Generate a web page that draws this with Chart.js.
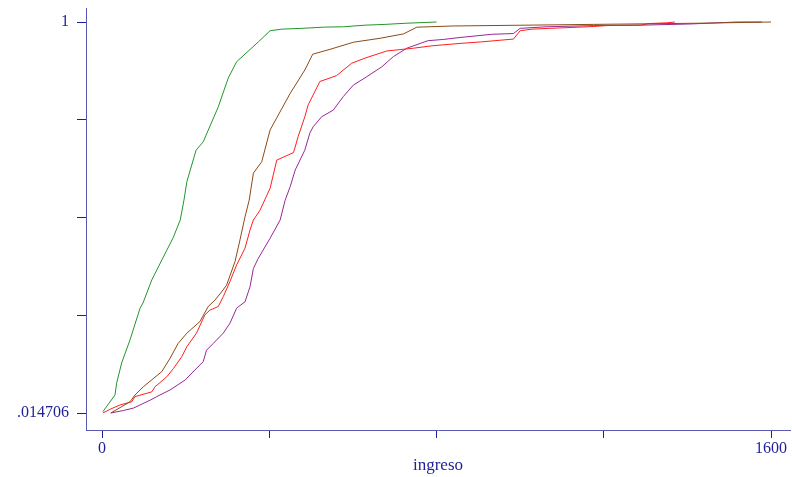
<!DOCTYPE html>
<html>
<head>
<meta charset="utf-8">
<script src="https://cdn.jsdelivr.net/npm/chart.js@4/dist/chart.umd.min.js"></script>
<style>
  html, body { margin: 0; padding: 0; background: #fff; }
  #wrap { width: 792px; height: 477px; position: relative; }
</style>
</head>
<body>
<div id="wrap"><canvas id="cdf"></canvas></div>
<script>
const xTicks = [0, 400, 800, 1200, 1600];
const xTickLabels = ['0', '', '', '', '1600'];
const yTicks = [0.014706, 0.26103, 0.50735, 0.75368, 1];
const yTickLabels = ['.014706', '', '', '', '1'];

const greenX = [2, 31, 35, 47, 67, 91, 98, 119, 155, 170, 187, 196, 203, 225, 242, 278, 302, 322, 374, 402, 430, 478, 529, 577, 629, 677, 729, 777, 800];
const greenY = [0.018, 0.060, 0.090, 0.141, 0.199, 0.279, 0.292, 0.350, 0.425, 0.456, 0.501, 0.551, 0.598, 0.677, 0.698, 0.786, 0.859, 0.900, 0.950, 0.978, 0.982, 0.984, 0.987, 0.988, 0.992, 0.994, 0.997, 0.999, 1];

const brownX = [21, 67, 79, 99, 143, 163, 182, 203, 234, 254, 270, 286, 298, 318, 330, 342, 352, 362, 382, 402, 450, 485, 504, 545, 601, 665, 721, 753, 840, 1012, 1175, 1263, 1430, 1600];
const brownY = [0.0147, 0.043, 0.060, 0.081, 0.119, 0.153, 0.190, 0.216, 0.245, 0.283, 0.299, 0.320, 0.337, 0.396, 0.451, 0.509, 0.551, 0.619, 0.648, 0.728, 0.820, 0.879, 0.919, 0.931, 0.949, 0.959, 0.970, 0.987, 0.990, 0.992, 0.994, 0.995, 0.997, 1];

const redX = [2, 19, 43, 71, 79, 119, 127, 155, 171, 191, 203, 226, 246, 258, 278, 290, 306, 322, 342, 354, 362, 378, 402, 418, 458, 469, 485, 493, 521, 561, 597, 629, 681, 745, 789, 856, 908, 984, 1000, 1028, 1071, 1163, 1207, 1287, 1307, 1351, 1370];
const redY = [0.0147, 0.024, 0.035, 0.043, 0.056, 0.068, 0.081, 0.106, 0.127, 0.157, 0.182, 0.216, 0.262, 0.274, 0.283, 0.308, 0.346, 0.388, 0.430, 0.476, 0.501, 0.526, 0.581, 0.652, 0.671, 0.711, 0.761, 0.791, 0.850, 0.865, 0.896, 0.909, 0.927, 0.934, 0.940, 0.946, 0.950, 0.957, 0.978, 0.982, 0.984, 0.988, 0.991, 0.992, 0.996, 0.998, 1];

const purpleX = [21, 51, 75, 115, 131, 163, 199, 222, 242, 250, 266, 290, 306, 322, 342, 354, 362, 374, 402, 426, 438, 450, 462, 485, 497, 505, 525, 553, 577, 601, 633, 669, 697, 729, 761, 780, 816, 856, 932, 984, 1000, 1064, 1175, 1287, 1406, 1518, 1578];
const purpleY = [0.0147, 0.021, 0.027, 0.047, 0.056, 0.073, 0.098, 0.123, 0.144, 0.173, 0.190, 0.216, 0.241, 0.279, 0.295, 0.333, 0.379, 0.405, 0.455, 0.501, 0.551, 0.585, 0.627, 0.677, 0.720, 0.736, 0.761, 0.778, 0.812, 0.841, 0.862, 0.887, 0.913, 0.934, 0.946, 0.953, 0.956, 0.961, 0.969, 0.971, 0.984, 0.988, 0.991, 0.992, 0.995, 1, 1];

const navy = '#1e1e96';
const fontFamily = '"Liberation Serif", "DejaVu Serif", serif';

const toPoints = (xs, ys) => xs.map((x, i) => ({ x, y: ys[i] }));
const series = (data, color) => ({ data, borderColor: color, borderWidth: 1, pointRadius: 0, tension: 0, fill: false });

new Chart(document.getElementById('cdf'), {
  type: 'line',
  data: {
    datasets: [
      series(toPoints(greenX, greenY), '#22962a'),
      series(toPoints(brownX, brownY), '#8c4a16'),
      series(toPoints(redX, redY), '#ff1e1e'),
      series(toPoints(purpleX, purpleY), '#962896'),
    ],
  },
  options: {
    responsive: true,
    maintainAspectRatio: false,
    animation: false,
    layout: { padding: { top: 8, right: 2, left: 0, bottom: 0 } },
    plugins: { legend: { display: false }, tooltip: { enabled: false } },
    scales: {
      x: {
        type: 'linear',
        min: -38.3,
        max: 1645.4,
        afterBuildTicks: (scale) => { scale.ticks = xTicks.map((value) => ({ value })); },
        afterFit: (scale) => { scale.height = 47; scale.paddingLeft = 0; scale.paddingRight = 0; },
        ticks: {
          autoSkip: false,
          maxRotation: 0,
          padding: 1,
          color: navy,
          font: { family: fontFamily, size: 16 },
          callback: (value, index) => xTickLabels[index],
        },
        grid: { drawOnChartArea: false, color: navy, tickLength: 8, lineWidth: 1 },
        border: { color: '#5a5ab4', width: 1 },
        title: { display: true, text: 'ingreso', color: navy, font: { family: fontFamily, size: 17 }, padding: { top: 0, bottom: 1 } },
      },
      y: {
        type: 'linear',
        min: -0.02813,
        max: 1.0353,
        afterBuildTicks: (scale) => { scale.ticks = yTicks.map((value) => ({ value })); },
        afterFit: (scale) => { scale.width = 86; scale.paddingTop = 0; scale.paddingBottom = 0; },
        ticks: {
          autoSkip: false,
          padding: 8,
          color: navy,
          font: { family: fontFamily, size: 16 },
          callback: (value, index) => yTickLabels[index],
        },
        grid: { drawOnChartArea: false, color: navy, tickLength: 9, lineWidth: 1 },
        border: { color: '#5a5ab4', width: 1 },
      },
    },
  },
});
</script>
</body>
</html>
